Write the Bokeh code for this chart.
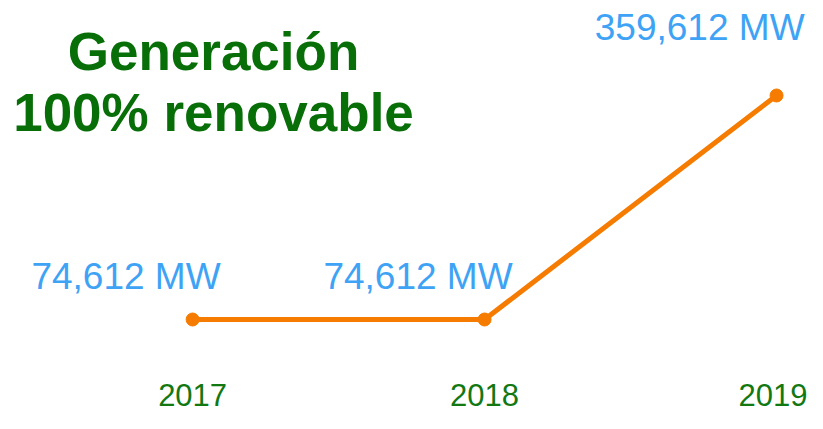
from bokeh.plotting import figure
from bokeh.models import ColumnDataSource, Range1d, Label, FixedTicker
from bokeh.embed import file_html
from bokeh.resources import INLINE

years = [2017, 2018, 2019]
capacity_mw = [74612, 74612, 359612]
value_labels = ["74,612 MW", "74,612 MW", "359,612 MW"]
label_dy = [43, 43, 68]  # pixel lift of each value label above its point
title_lines = ["Generación", "100% renovable"]

src = ColumnDataSource(dict(x=years, y=capacity_mw))

p = figure(width=807, height=413, output_backend="svg", toolbar_location=None,
           x_range=Range1d(2016.342, 2019.106), y_range=Range1d(18631, 480480),
           min_border_left=0, min_border_right=0, min_border_top=0, min_border_bottom=50)
p.outline_line_color = None
p.grid.visible = False
p.yaxis.visible = False
p.background_fill_color = "white"

p.line("x", "y", source=src, line_color="#f57c00", line_width=5)
p.scatter("x", "y", source=src, size=13, fill_color="#f57c00", line_color="#f57c00")

for i in range(len(years)):
    p.add_layout(Label(x=years[i], y=capacity_mw[i], text=value_labels[i],
                       x_offset=28, y_offset=label_dy[i], text_align="right",
                       text_baseline="alphabetic", text_font="Liberation Sans",
                       text_font_size="37px", text_color="#3fa3f5"))

ax = p.xaxis[0]
ax.ticker = FixedTicker(ticks=years)
ax.axis_line_color = None
ax.major_tick_line_color = None
ax.minor_tick_line_color = None
ax.major_label_text_font = "Liberation Sans"
ax.major_label_text_font_size = "31px"
ax.major_label_text_color = "#127812"
ax.major_label_standoff = 14

title_y = [312, 251]
for t, ty in zip(title_lines, title_y):
    p.add_layout(Label(x=213, y=ty, x_units="screen", y_units="screen", text=t,
                       text_align="center", text_baseline="alphabetic",
                       text_font="Liberation Sans", text_font_style="bold",
                       text_font_size="53px", text_color="#086e08"))

open("out.html", "w").write(file_html(p, INLINE))
